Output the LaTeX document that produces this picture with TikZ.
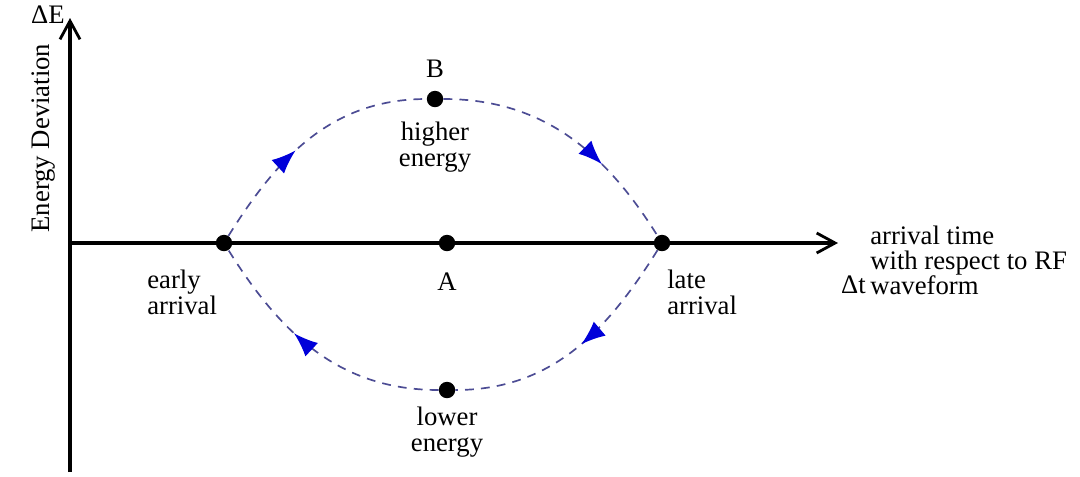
\documentclass[tikz,border=0pt]{standalone}
\usepackage{fontspec}
\setmainfont{Liberation Serif}
\usetikzlibrary{arrows.meta,positioning,decorations.markings}
\definecolor{orbitblue}{rgb}{0.3,0.3,0.58}
\definecolor{tipblue}{rgb}{0,0,0.85}

\begin{document}
\begin{tikzpicture}[
		x=0.025cm, y=-0.025cm,
		every node/.style={font=\fontsize{19}{18}\selectfont},
		axis/.style={line width=2.6pt, -{Straight Barb[length=4.6mm,width=5mm,line width=2pt]}},
		dot/.style={circle, fill=black, inner sep=0pt, minimum size=4.1mm},
		orbit/.style={draw=orbitblue, line width=1.2pt, dash pattern=on 2.2mm off 1.8mm},
		flow/.style={postaction={decorate}, decoration={markings,
			mark=at position #1 with {\arrow{Latex[length=6mm,width=4.6mm,color=tipblue]}}}},
		lbl/.style={align=left, inner sep=0pt}
	]
		\useasboundingbox (0,0) rectangle (1080,476);

		% axes
		\coordinate (ybot) at (70,472);
		\coordinate (ytop) at (70,18);
		\coordinate (xleft) at (70,243);
		\coordinate (xright) at (838,243);
		\draw[axis] (ybot) -- (ytop);
		\draw[axis] (xleft) -- (xright);

		% phase points
		\node[dot] (early) at (224,243) {};
		\node[dot] (A) at (447,243) {};
		\node[dot] (late) at (662,243) {};
		\node[dot] (B) at (435,99) {};
		\node[dot] (low) at (447,390) {};

		% orbit
		\draw[orbit, flow=0.43] (early) to[out=58, in=180] (B);
		\draw[orbit, flow=0.66] (B) to[out=0, in=122] (late);
		\draw[orbit, flow=0.47] (late) to[out=-122, in=0] (low);
		\draw[orbit, flow=0.6] (low) to[out=180, in=-58] (early);

		% labels
		\node[above=2mm of B] (Blbl) {B};
		\node[below=2.5mm of B, align=center] (hilbl) {higher\\energy};
		\node[below=4mm of A] (Albl) {A};
		\node[below=1mm of low, align=center] (lolbl) {lower\\energy};
		\node[lbl, anchor=north west] (earlylbl) at (147,270) {early\\arrival};
		\node[lbl, anchor=north west] (latelbl) at (667,270) {late\\arrival};
		\node (dE) at (48,15) {ΔE};
		\node[rotate=90] (ylbl) at (44,138) {Energy Deviation};
		\node[anchor=east, inner sep=0pt] (dt) at (866,285) {Δt};
		\node[lbl, anchor=north west, font=\fontsize{19}{17.5}\selectfont] (xlbl) at (870,226)
			{arrival time\\with respect to RF\\waveform};
	\end{tikzpicture}
\end{document}
